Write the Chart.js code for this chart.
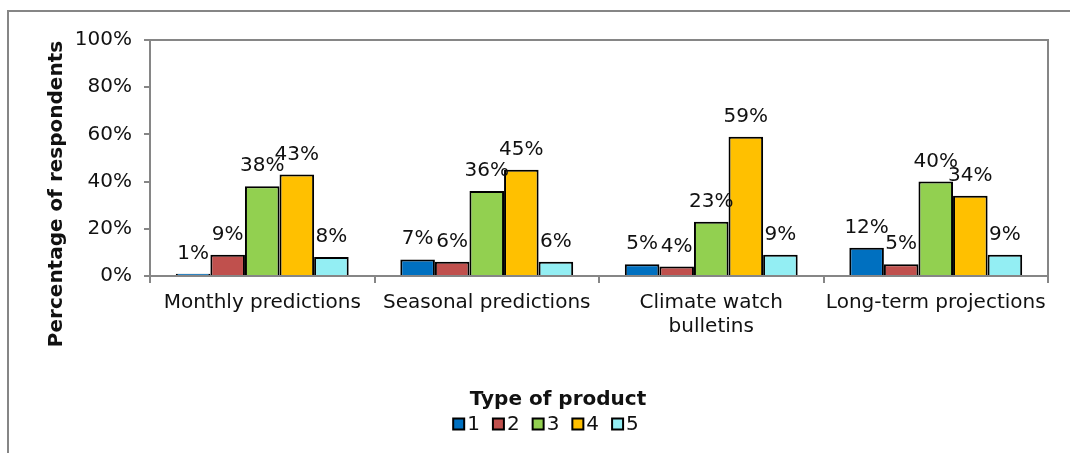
<!DOCTYPE html>
<html>
<head>
<meta charset="utf-8">
<script src="https://cdn.jsdelivr.net/npm/chart.js@4/dist/chart.umd.min.js"></script>
<style>
  html, body { margin: 0; padding: 0; background: #fff; }
  #wrap { width: 1070px; height: 453px; position: relative; }
</style>
</head>
<body>
<div id="wrap"><canvas id="surveyChart"></canvas></div>
<script>
// Survey answers per product type (share of respondents, %)
const categories = [
    'Monthly predictions',
    'Seasonal predictions',
    ['Climate watch', 'bulletins'],
    'Long-term projections'
];
const ratingLabels = ['1', '2', '3', '4', '5'];
const rating1 = [1, 7, 5, 12];
const rating2 = [9, 6, 4, 5];
const rating3 = [38, 36, 23, 40];
const rating4 = [43, 45, 59, 34];
const rating5 = [8, 6, 9, 9];
const yTicks = [0, 20, 40, 60, 80, 100];

const seriesValues = [rating1, rating2, rating3, rating4, rating5];
const barColors = ['#0070C0', '#C0504D', '#92D050', '#FFC000', '#93EEF3'];
const FONT = '"DejaVu Sans", Verdana, sans-serif';
const AXIS_GRAY = '#868686';

// Outer frame + plot box, value labels, axis titles, legend
const decorations = {
    id: 'decorations',
    beforeDraw(chart) {
        const ctx = chart.ctx;
        ctx.save();
        ctx.strokeStyle = AXIS_GRAY;
        ctx.lineWidth = 2;
        ctx.beginPath();
        ctx.moveTo(8, 453);
        ctx.lineTo(8, 11);
        ctx.lineTo(1070, 11);
        ctx.stroke();
        ctx.restore();
    },
    afterDraw(chart) {
        const ctx = chart.ctx;
        const area = chart.chartArea;
        ctx.save();

        // plot area frame (top and right side)
        ctx.strokeStyle = AXIS_GRAY;
        ctx.lineWidth = 2;
        ctx.beginPath();
        ctx.moveTo(area.left, area.top);
        ctx.lineTo(area.right, area.top);
        ctx.lineTo(area.right, area.bottom);
        ctx.stroke();

        // value labels above each bar
        ctx.fillStyle = '#111';
        ctx.font = '20px ' + FONT;
        ctx.textAlign = 'center';
        ctx.textBaseline = 'alphabetic';
        chart.data.datasets.forEach((ds, i) => {
            chart.getDatasetMeta(i).data.forEach((bar, j) => {
                ctx.fillText(ds.data[j] + '%', bar.x, bar.y - 15);
            });
        });

        // y axis title
        ctx.font = 'bold 20px ' + FONT;
        ctx.save();
        ctx.translate(57, 194);
        ctx.rotate(-Math.PI / 2);
        ctx.textAlign = 'center';
        ctx.textBaseline = 'middle';
        ctx.fillText('Percentage of respondents', 0, 0);
        ctx.restore();

        // x axis title
        ctx.textAlign = 'center';
        ctx.textBaseline = 'middle';
        ctx.fillText('Type of product', 558, 400);

        // legend row
        ctx.font = '20px ' + FONT;
        ctx.textAlign = 'left';
        const box = 11, gap = 3;
        const items = ratingLabels.map(t => box + gap + ctx.measureText(t).width);
        const spacing = 13;
        const total = items.reduce((a, b) => a + b, 0) + spacing * (items.length - 1);
        let x = 546 - total / 2;
        const y = 424;
        ratingLabels.forEach((t, i) => {
            ctx.fillStyle = barColors[i];
            ctx.fillRect(x, y - box / 2, box, box);
            ctx.strokeStyle = '#000';
            ctx.lineWidth = 2;
            ctx.strokeRect(x, y - box / 2, box, box);
            ctx.fillStyle = '#111';
            ctx.textBaseline = 'middle';
            ctx.fillText(t, x + box + gap, y + 1);
            x += items[i] + spacing;
        });
        ctx.restore();
    }
};

new Chart(document.getElementById('surveyChart'), {
    type: 'bar',
    data: {
        labels: categories,
        datasets: seriesValues.map((vals, i) => ({
            label: ratingLabels[i],
            data: vals,
            backgroundColor: barColors[i],
            borderColor: '#000',
            borderWidth: 2,
            barPercentage: 1,
            categoryPercentage: 0.77
        }))
    },
    options: {
        responsive: true,
        maintainAspectRatio: false,
        animation: false,
        layout: { padding: { top: 40, right: 22, left: 0, bottom: 0 } },
        plugins: { legend: { display: false }, tooltip: { enabled: false } },
        scales: {
            x: {
                grid: { display: true, drawOnChartArea: false, offset: true, color: AXIS_GRAY, lineWidth: 2, tickLength: 7 },
                border: { color: AXIS_GRAY, width: 2 },
                ticks: { color: '#111', font: { family: FONT, size: 20 }, padding: 8, maxRotation: 0, autoSkip: false },
                afterFit(scale) { scale.height = 177; }
            },
            y: {
                min: 0,
                max: 100,
                afterBuildTicks(scale) { scale.ticks = yTicks.map(v => ({ value: v })); },
                grid: { display: true, drawOnChartArea: false, color: AXIS_GRAY, lineWidth: 2, tickLength: 6 },
                border: { color: AXIS_GRAY, width: 2 },
                ticks: { color: '#111', font: { family: FONT, size: 20 }, padding: 12, callback: v => v + '%' },
                afterFit(scale) { scale.width = 150; }
            }
        }
    },
    plugins: [decorations]
});
</script>
</body>
</html>
